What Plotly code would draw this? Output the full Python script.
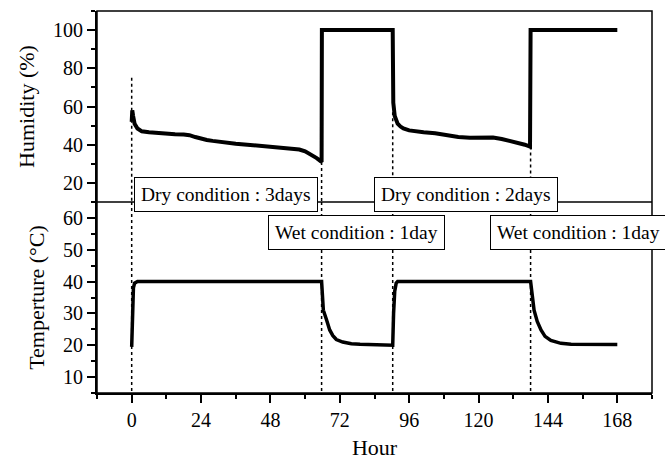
import plotly.graph_objects as go

# ---- data ----
hum_hours = [0, 0.2, 0.5, 1, 2, 3.5, 6, 9, 12, 15, 18, 20, 22, 24, 26, 28, 30, 33, 36, 40,
             44, 48, 52, 56, 58, 60, 62, 64, 65.7, 65.8, 90.3, 90.5, 91, 92, 93, 94, 96, 98,
             101, 105, 109, 113, 117, 121, 125, 128, 131, 134, 136, 137.8, 138, 168]
humidity = [52, 58, 55, 51, 48.5, 47, 46.5, 46, 45.7, 45.5, 45.3, 45, 44, 43, 42.5, 42, 41.5,
            41, 40.5, 40, 39.5, 39, 38.5, 38, 37.5, 36.5, 35, 33, 31, 100, 100, 62, 55, 51,
            49.5, 48.5, 47.5, 47, 46.5, 46, 45, 44, 43.6, 43.5, 43.8, 43, 42, 41, 40, 39, 100, 100]

temp_hours = [0, 0.3, 0.6, 1, 2, 65.7, 66.3, 67.4, 68.5, 69.6, 70.8, 73, 76, 79, 90.3, 90.6,
              91, 91.5, 92, 138, 138.5, 139.2, 140.3, 141.6, 143, 145, 148.5, 152, 168]
temperature = [19.5, 33, 38, 39.5, 40, 40, 31, 28, 24.8, 23, 21.8, 21, 20.5, 20.3, 20, 30, 37,
               39.5, 40, 40, 35, 31, 27.5, 24.8, 22.8, 21.5, 20.6, 20.3, 20.2]

change_hours = [0, 65.7, 90.3, 138]
change_top_humidity = [75, 31, 57, 39]

x_ticks = [0, 24, 48, 72, 96, 120, 144, 168]
hum_ticks = [20, 40, 60, 80, 100]
temp_ticks = [10, 20, 30, 40, 50, 60]

labels = [
    ("Dry condition : 3days", 32.7, 13.7, "y2"),
    ("Dry condition : 2days", 115.5, 13.7, "y2"),
    ("Wet condition : 1day", 77.9, 55.3, "y"),
    ("Wet condition : 1day", 154.6, 55.3, "y"),
]

FONT = "Liberation Serif"

fig = go.Figure()

# dotted condition-change markers
for h, top in zip(change_hours, change_top_humidity):
    fig.add_trace(go.Scatter(x=[h, h], y=[top, 10], xaxis="x", yaxis="y2", mode="lines",
                             line=dict(color="black", width=1.5, dash="dot"),
                             showlegend=False, hoverinfo="skip"))
    fig.add_trace(go.Scatter(x=[h, h], y=[65, 5], xaxis="x", yaxis="y", mode="lines",
                             line=dict(color="black", width=1.5, dash="dot"),
                             showlegend=False, hoverinfo="skip"))

fig.add_trace(go.Scatter(x=hum_hours, y=humidity, xaxis="x", yaxis="y2", mode="lines",
                         line=dict(color="black", width=4), showlegend=False))
fig.add_trace(go.Scatter(x=temp_hours, y=temperature, xaxis="x", yaxis="y", mode="lines",
                         line=dict(color="black", width=3.5), showlegend=False))

annotations = []
for text, x, y, yref in labels:
    annotations.append(dict(text=text, x=x, y=y, xref="x", yref=yref, showarrow=False,
                            font=dict(family=FONT, size=19.5, color="black"),
                            bgcolor="white", bordercolor="black", borderwidth=1,
                            borderpad=6, xanchor="center", yanchor="middle"))

axis_common = dict(showline=True, linecolor="black", linewidth=2, ticks="outside",
                   ticklen=8, tickwidth=1.5, tickcolor="black", showgrid=False,
                   zeroline=False, automargin=False,
                   tickfont=dict(family=FONT, size=20, color="black"))

fig.update_layout(
    width=665, height=460,
    margin=dict(l=97, r=13, t=11, b=67, autoexpand=False),
    paper_bgcolor="white", plot_bgcolor="white",
    font=dict(family=FONT, color="black"),
    xaxis=dict(range=[-12, 180], tickvals=x_ticks, anchor="y",
               minor=dict(dtick=12, tick0=0, ticks="outside", ticklen=4, tickcolor="black", tickwidth=1.5),
               title=dict(text="Hour", font=dict(family=FONT, size=22), standoff=12),
               **axis_common),
    yaxis=dict(domain=[0, 0.5], range=[5, 65], tickvals=temp_ticks, anchor="x",
               minor=dict(dtick=5, tick0=0, ticks="outside", ticklen=4, tickcolor="black", tickwidth=1.5),
               title=dict(text="Temperture (°C)", font=dict(family=FONT, size=22), standoff=12),
               **axis_common),
    yaxis2=dict(domain=[0.5, 1], range=[10, 110], tickvals=hum_ticks, anchor="x",
                minor=dict(dtick=10, tick0=0, ticks="outside", ticklen=4, tickcolor="black", tickwidth=1.5),
                title=dict(text="Humidity (%)", font=dict(family=FONT, size=22), standoff=12),
                **axis_common),
    shapes=[
        dict(type="rect", xref="paper", yref="paper", x0=0, x1=1, y0=0, y1=1,
             line=dict(color="black", width=1.5), layer="above"),
        dict(type="line", xref="paper", yref="paper", x0=0, x1=1, y0=0.5, y1=0.5,
             line=dict(color="black", width=1.5), layer="below"),
    ],
    annotations=annotations,
)

fig.write_html("out.html")
